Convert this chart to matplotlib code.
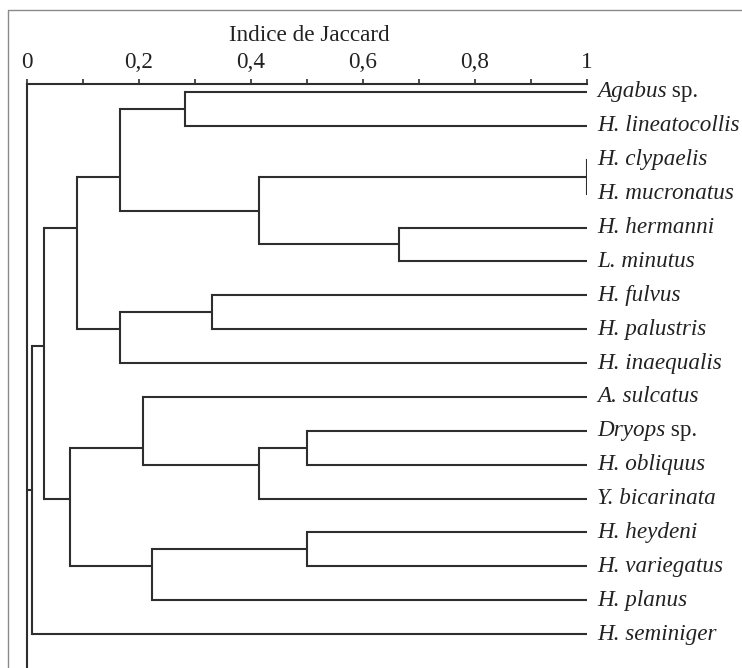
import matplotlib.pyplot as plt
import numpy as np
from matplotlib.lines import Line2D
from matplotlib.ticker import FixedLocator, FuncFormatter

plt.rcParams['font.family'] = ['Liberation Serif', 'DejaVu Serif']

# leaves, top to bottom
leaves = ["Agabus sp.", "H. lineatocollis", "H. clypaelis", "H. mucronatus",
          "H. hermanni", "L. minutus", "H. fulvus", "H. palustris",
          "H. inaequalis", "A. sulcatus", "Dryops sp.", "H. obliquus",
          "Y. bicarinata", "H. heydeni", "H. variegatus", "H. planus",
          "H. seminiger"]

# merges: child a, child b, Jaccard similarity (new node ids start at 17)
merge_a = [2, 4, 13, 10, 17, 20, 6, 0, 19, 9, 24, 23, 27, 26, 29, 31]
merge_b = [3, 5, 14, 11, 18, 12, 7, 1, 15, 22, 21, 8, 28, 25, 30, 16]
merge_h = [1.0, 0.664, 0.5, 0.5, 0.414, 0.414, 0.33, 0.282, 0.223, 0.207,
           0.166, 0.166, 0.09, 0.077, 0.03, 0.009]

tick_major = [0, 0.2, 0.4, 0.6, 0.8, 1]
tick_minor = [0.1, 0.3, 0.5, 0.7, 0.9]

W, H = 742, 668
fs = 16.7
fig = plt.figure(figsize=(W / 100, H / 100), dpi=100)
ax = fig.add_axes([27 / W, 0, 560 / W, 584 / H])
col = '#2e2e2e'
txt = '#222222'
lw = 1.5

n = len(leaves)
xs = {i: 1.0 for i in range(n)}
members = {i: [i] for i in range(n)}
ys = {i: float(i) for i in range(n)}
for k, (a, b, h) in enumerate(zip(merge_a, merge_b, merge_h)):
    node = n + k
    members[node] = members[a] + members[b]
    ys[node] = np.mean(members[node])
    xs[node] = h
    for c in (a, b):
        ax.plot([xs[c], h], [ys[c], ys[c]], color=col, lw=lw, solid_capstyle='butt')
    ax.plot([h, h], [ys[a], ys[b]], color=col, lw=lw, solid_capstyle='projecting')

# root stub back to 0
root = n + len(merge_h) - 1
ra, rb = merge_a[-1], merge_b[-1]
ymid = (ys[ra] + ys[rb]) / 2
ax.plot([0, xs[root]], [ymid, ymid], color=col, lw=lw)

ax.set_xlim(0, 1)
ax.set_ylim(17.0, -0.236)

for s in ['right', 'bottom']:
    ax.spines[s].set_visible(False)
for s in ['top', 'left']:
    ax.spines[s].set_color(col)
    ax.spines[s].set_linewidth(lw)
ax.yaxis.set_visible(False)
ax.xaxis.set_ticks_position('top')
ax.xaxis.set_major_locator(FixedLocator(tick_major))
ax.xaxis.set_minor_locator(FixedLocator(tick_minor))
ax.xaxis.set_major_formatter(FuncFormatter(lambda v, p: ('%g' % v).replace('.', ',')))
ax.tick_params(axis='x', which='both', direction='out', length=3.5, width=1.2,
               color=col, labelsize=fs, pad=4.5, labelcolor=txt)

for i, name in enumerate(leaves):
    if name.endswith(' sp.'):
        t = ax.text(1.0175, i, name[:-4], style='italic', fontsize=fs,
                    va='center', ha='left', color=txt)
        ax.annotate(' sp.', xy=(1, 0), xycoords=t, va='bottom', ha='left',
                    fontsize=fs, color=txt)
    else:
        ax.text(1.0175, i, name, style='italic', fontsize=fs,
                va='center', ha='left', color=txt)

fig.text(309.5 / W, 1 - 41 / H, 'Indice de Jaccard', fontsize=fs, ha='center',
         va='baseline', color=txt)

# outer frame
fig.add_artist(Line2D([8 / W, 8 / W, 1], [0, 1 - 10 / H, 1 - 10 / H],
                      transform=fig.transFigure, color='#8a8a8a', lw=1))

fig.savefig('out.png', dpi=100)
